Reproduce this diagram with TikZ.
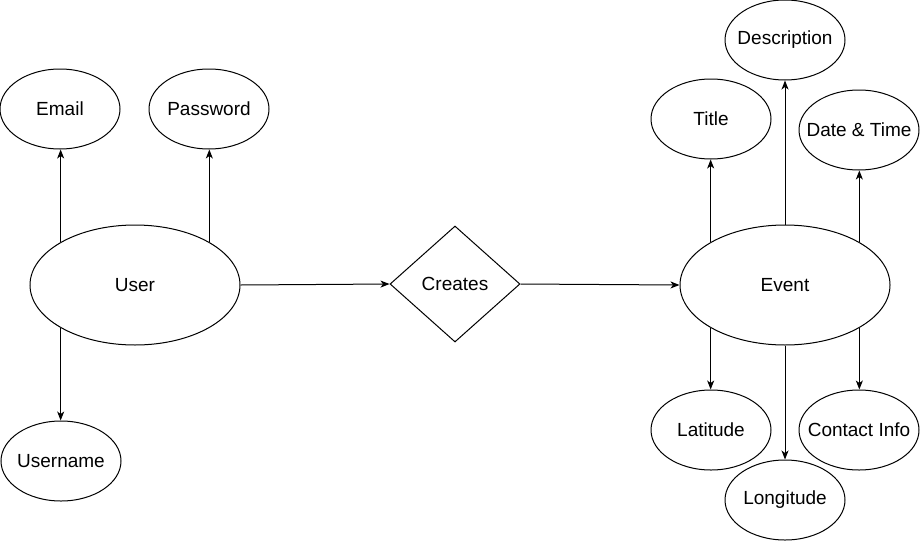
\documentclass[tikz,border=0pt]{standalone}
\usepackage{fontspec}
\setmainfont{Liberation Sans}
\usetikzlibrary{shapes.geometric,arrows.meta}
\newcommand{\lbl}[1]{\makebox[0pt][c]{#1}}
\begin{document}
\begin{tikzpicture}[x=1pt,y=-1pt,
  attr/.style={ellipse,draw,line width=1pt,minimum width=120pt,minimum height=80pt,inner sep=0pt,font=\fontsize{19}{22}\selectfont},
  ent/.style={ellipse,draw,line width=1pt,minimum width=210pt,minimum height=120pt,inner sep=0pt,font=\fontsize{19}{22}\selectfont},
  rel/.style={diamond,draw,line width=1pt,minimum width=130pt,minimum height=116pt,inner sep=0pt,font=\fontsize{19}{22}\selectfont},
  conn/.style={line width=1pt,-{Stealth[length=9pt,width=7pt,inset=2.5pt]}}]
\useasboundingbox (0,0) rectangle (920,541);
\node[ent] (User) at (135,285) {\lbl{User}};
\node[attr] (Email) at (60,109) {\lbl{Email}};
\node[attr] (Password) at (209,109) {\lbl{Password}};
\node[attr] (Username) at (61,461) {\lbl{Username}};
\node[rel] (Creates) at (455,284) {\lbl{Creates}};
\node[ent] (Event) at (785,285) {\lbl{Event}};
\node[attr] (Title) at (711,119) {\lbl{Title}};
\node[attr] (Description) at (785,40) {\lbl{Description}};
\node[attr] (DateTime) at (859,130) {\lbl{Date \& Time}};
\node[attr] (Latitude) at (711,430) {\lbl{Latitude}};
\node[attr] (Longitude) at (785,500) {\lbl{Longitude}};
\node[attr] (Contact) at (859,430) {\lbl{Contact Info}};
\draw[conn] (User.150) -- (User.150 |- Email.south);
\draw[conn] (User.30) -- (User.30 |- Password.south);
\draw[conn] (User.210) -- (User.210 |- Username.north);
\draw[conn] (User.east) -- (Creates.west);
\draw[conn] (Creates.east) -- (Event.west);
\draw[conn] (Event.150) -- (Event.150 |- Title.south);
\draw[conn] (Event.north) -- (Description.south);
\draw[conn] (Event.30) -- (Event.30 |- DateTime.south);
\draw[conn] (Event.210) -- (Event.210 |- Latitude.north);
\draw[conn] (Event.south) -- (Longitude.north);
\draw[conn] (Event.330) -- (Event.330 |- Contact.north);
\end{tikzpicture}
\end{document}
